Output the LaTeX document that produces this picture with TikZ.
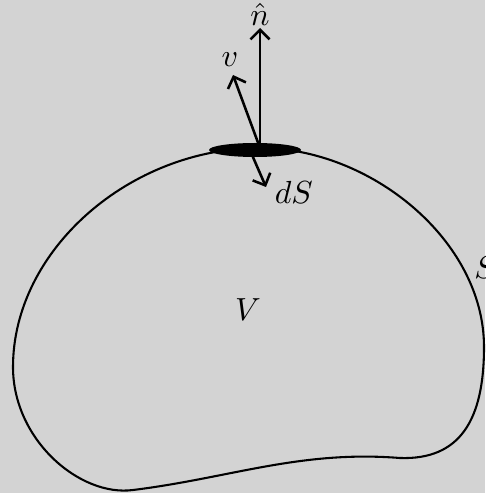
\documentclass[tikz,border=0pt]{standalone}
\usepackage{amsmath}
\usepackage{tikz}
\usetikzlibrary{arrows.meta}
\definecolor{bggray}{HTML}{D3D3D3}

\begin{document}
\begin{tikzpicture}[x=0.011cm, y=-0.011cm, >={Straight Barb[length=3pt,width=6pt]},
  vec/.style={->, line width=0.8pt},
  lbl/.style={inner sep=1pt}]
  \fill[bggray] (0,0) rectangle (485,493);
  \useasboundingbox (0,0) rectangle (485,493);
  % the surface S bounding V
  \draw[line width=0.65pt] (260,148)
    .. controls (370,148) and (484,240) .. (484,347)
    .. controls (484,420) and (460,460) .. (400,458)
    .. controls (300,450) and (230,478) .. (133,490)
    .. controls (80,497) and (13,440) .. (13,367)
    .. controls (13,250) and (130,148) .. cycle;
  \fill (255,150) ellipse (46 and 7);
  \coordinate (p) at (260,148);
  \coordinate (foot) at (249,148);
  \coordinate (tip) at (266,187);
  \node[lbl] (nhat) at (260,14) {$\hat{n}$};
  \node[lbl] (v) at (230,60) {$v$};
  \node[lbl, anchor=west] (dS) at (271,192) {$dS$};
  \node (V) at (248,310) {$V$};
  \node (S) at (485,268) {$S$};
  \draw[vec] (p) -- (260,28);
  \draw[vec] (p) -- (233,75);
  \draw[vec] (foot) -- (tip);
\end{tikzpicture}
\end{document}
